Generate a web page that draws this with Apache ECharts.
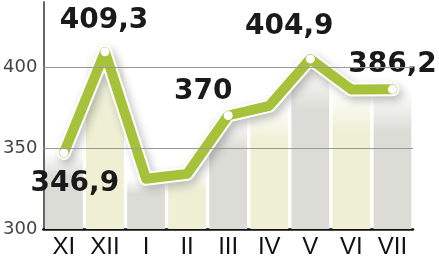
<!DOCTYPE html>
<html><head><meta charset="utf-8">
<script src="https://cdn.jsdelivr.net/npm/echarts@6/dist/echarts.min.js"></script>
<style>html,body{margin:0;padding:0;background:#fff}#c{width:439px;height:268px}</style>
</head><body><div id="c"></div>
<script>
const categories = ['XI','XII','I','II','III','IV','V','VI','VII'];
const values = [346.9, 409.3, 331, 334, 370, 376, 404.9, 386, 386.2];
const pointLabels = ['346,9','409,3','','','370','','404,9','','386,2'];
const yMin = 300, yMax = 440, yStep = 20;
const yTickLabels = [300, 350, 400];
const gridValues = [350, 400];

const labelOffsets = [[11,31],[-1,-31],null,null,[-25,-24],null,[-21,-32],null,[0,-25]];
const gray = '#dcdcd7', yellow = '#eeefd3';
function grad(c){
  return new echarts.graphic.LinearGradient(0,0,0,1,[
    {offset:0,color:'rgba(255,255,255,0.9)'},{offset:0.3,color:c},{offset:1,color:c}]);
}
const chart = echarts.init(document.getElementById('c'), null, {renderer:'canvas'});
chart.setOption({
  backgroundColor:'#fff',
  animation:false,
  grid:{left:42,right:26,top:2,bottom:39,containLabel:false},
  xAxis:{type:'category',data:categories,boundaryGap:true,
    axisLine:{lineStyle:{color:'#111',width:2.5}},axisTick:{show:false},
    axisLabel:{fontFamily:'Liberation Sans',fontSize:24,color:'#111',margin:6}},
  yAxis:{type:'value',min:yMin,max:yMax,interval:10,
    axisLine:{show:true,lineStyle:{color:'#666',width:2}},axisTick:{show:false},
    splitLine:{show:false},
    axisLabel:{fontFamily:'DejaVu Sans',fontSize:18,color:'#444',margin:6,
      showMaxLabel:false,
      formatter:v=>yTickLabels.indexOf(v)>=0?String(v):''}},
  series:[
    {type:'bar',data:values.map((v,i)=>({value:v,itemStyle:{color:grad(i%2?yellow:gray)}})),
     barCategoryGap:'8%',z:1,
     markLine:{silent:true,symbol:'none',label:{show:false},
       lineStyle:{color:'#999',width:1,type:'solid'},
       data:gridValues.map(v=>({yAxis:v}))}},
    {type:'line',data:values,symbol:'none',z:2,
     lineStyle:{color:'#fff',width:14,cap:'round',join:'round',
       shadowColor:'rgba(0,0,0,0.25)',shadowBlur:8,shadowOffsetX:3,shadowOffsetY:4}},
    {type:'line',z:3,
     data:values.map((v,i)=>({value:v,
       symbol:pointLabels[i]?'circle':'none',symbolSize:9,
       label:pointLabels[i]?{show:true,position:'inside',offset:labelOffsets[i],
         formatter:pointLabels[i],fontFamily:'DejaVu Sans',fontWeight:'bold',fontSize:28,
         color:'#1a1a1a'}:{show:false}})),
     itemStyle:{color:'#fff',borderWidth:0},
     lineStyle:{color:'#a5c23a',width:10,cap:'round',join:'round'}}
  ]
});
</script></body></html>
